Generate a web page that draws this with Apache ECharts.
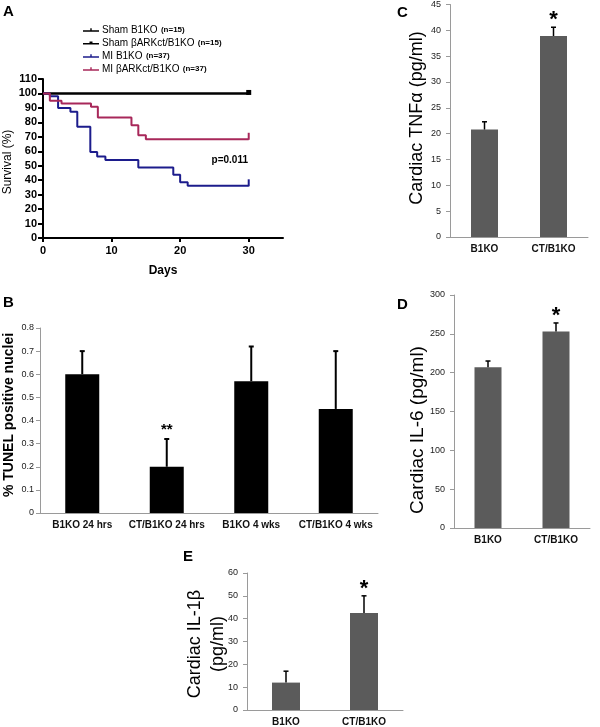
<!DOCTYPE html>
<html><head><meta charset="utf-8">
<script src="https://cdn.jsdelivr.net/npm/echarts@6/dist/echarts.min.js"></script>
<style>html,body{margin:0;padding:0;background:#fff}#c{width:600px;height:727px}</style>
</head><body><div id="c"></div>
<script>
// ---- Panel A: Kaplan-Meier survival ----
const kmNames = ['Sham B1KO', 'Sham βARKct/B1KO', 'MI B1KO', 'MI βARKct/B1KO'];
const kmN = ['(n=15)', '(n=15)', '(n=37)', '(n=37)'];
const shamDays = [0, 30];
const shamSurv = [100, 100];
const miDays = [0, 1, 2.2, 4.0, 5.0, 6.9, 7.9, 9.1, 13.9, 19.0, 20.0, 21.1, 30];
const miSurv = [100, 98, 90, 87.3, 77, 59.5, 56.3, 54, 48.7, 43.7, 38.6, 36.1, 36.1];
const miCtDays = [0, 1, 2.7, 7.0, 8.0, 12.9, 13.9, 15.0, 30];
const miCtSurv = [100, 95, 93, 90.8, 83.4, 78, 71, 68.3, 68.3];
const pText = 'p=0.011';

// ---- Panel B: TUNEL ----
const bCats = ['B1KO 24 hrs', 'CT/B1KO 24 hrs', 'B1KO 4 wks', 'CT/B1KO 4 wks'];
const bVals = [0.6, 0.2, 0.57, 0.45];
const bErrTop = [0.7, 0.32, 0.72, 0.70];
const bStars = ['', '**', '', ''];

// ---- Panel C: TNFα ----
const cCats = ['B1KO', 'CT/B1KO'];
const cVals = [20.8, 38.9];
const cErrTop = [22.3, 40.6];
const cStars = ['', '*'];

// ---- Panel D: IL-6 ----
const dCats = ['B1KO', 'CT/B1KO'];
const dVals = [207, 253];
const dErrTop = [215, 264];
const dStars = ['', '*'];

// ---- Panel E: IL-1β ----
const eCats = ['B1KO', 'CT/B1KO'];
const eVals = [12, 42.5];
const eErrTop = [17, 50];
const eStars = ['', '*'];

const FF = 'Liberation Sans, Arial, sans-serif';
const chart = echarts.init(document.getElementById('c'), null, {renderer: 'canvas'});

function kmData(days, surv, endSym, endSize, endOff) {
  return days.map((d, i) => {
    const last = i === days.length - 1;
    return last ? {value: [d, surv[i]], symbol: endSym, symbolSize: endSize, symbolOffset: endOff}
                : {value: [d, surv[i]], symbol: 'none'};
  });
}

function errRenderer(stars, capW, lw, starSize, starGap) {
  return function (params, api) {
    const i = api.value(0);
    const p0 = api.coord([i, api.value(1)]);
    const p1 = api.coord([i, api.value(2)]);
    const children = [
      {type: 'line', shape: {x1: p0[0], y1: p0[1], x2: p1[0], y2: p1[1]}, style: {stroke: '#000', lineWidth: lw}},
      {type: 'line', shape: {x1: p1[0] - capW / 2, y1: p1[1], x2: p1[0] + capW / 2, y2: p1[1]}, style: {stroke: '#000', lineWidth: lw}}
    ];
    const s = stars[params.dataIndex];
    if (s) {
      children.push({type: 'text', x: p1[0], y: p1[1] - starGap,
        style: {text: s, fill: '#000', font: 'bold ' + starSize + 'px ' + FF, textAlign: 'center', textVerticalAlign: 'bottom'}});
    }
    return {type: 'group', children: children};
  };
}

function barY(gi, min, max, interval, margin) {
  return {gridIndex: gi, type: 'value', min: min, max: max, interval: interval,
    axisLine: {show: true, lineStyle: {color: '#9a9a9a', width: 1}},
    axisTick: {show: true, length: 4, lineStyle: {color: '#9a9a9a'}},
    splitLine: {show: false},
    axisLabel: {fontSize: 9, color: '#222', fontFamily: FF, margin: margin}};
}
function barX(gi, cats) {
  return {gridIndex: gi, type: 'category', data: cats,
    axisLine: {show: true, lineStyle: {color: '#9a9a9a', width: 1}},
    axisTick: {show: false},
    axisLabel: {fontSize: 10, fontWeight: 'bold', color: '#111', fontFamily: FF, margin: 7, interval: 0}};
}
function errData(vals, tops) { return vals.map((v, i) => [i, v, tops[i]]); }

const lineIcon = 'path://M0,3L16,3L16,4.6L0,4.6Z M7.3,1L8.7,1L8.7,4L7.3,4Z';
const sqIcon = 'path://M0,3L16,3L16,4.6L0,4.6Z M6.5,1.5L9.5,1.5L9.5,4.5L6.5,4.5Z';

const option = {
  animation: false,
  backgroundColor: '#fff',
  grid: [
    {left: 43, top: 79, width: 240, height: 159},
    {left: 40, top: 328, width: 338, height: 185},
    {left: 450, top: 3, width: 138, height: 234},
    {left: 454, top: 295, width: 136, height: 233},
    {left: 247, top: 573, width: 156, height: 139}
  ],
  legend: {
    left: 78, top: 19, orient: 'vertical', itemWidth: 16, itemHeight: 6, itemGap: 1,
    data: [
      {name: kmNames[0], icon: lineIcon},
      {name: kmNames[1], icon: sqIcon},
      {name: kmNames[2], icon: lineIcon},
      {name: kmNames[3], icon: lineIcon}
    ],
    formatter: function (name) { return '{a|' + name + '} {b|' + kmN[kmNames.indexOf(name)] + '}'; },
    textStyle: {padding: [0, 0, 0, -2], rich: {
      a: {fontSize: 10, fontFamily: FF, color: '#000', lineHeight: 12},
      b: {fontSize: 8, fontWeight: 'bold', fontFamily: FF, color: '#000', lineHeight: 12}
    }}
  },
  xAxis: [
    {gridIndex: 0, type: 'value', min: 0, max: 35, interval: 10,
      axisLine: {lineStyle: {color: '#000', width: 2}},
      axisTick: {length: 4, lineStyle: {color: '#000', width: 2}},
      splitLine: {show: false},
      axisLabel: {fontSize: 11, fontWeight: 'bold', color: '#000', fontFamily: FF, showMaxLabel: false, margin: 7},
      name: 'Days', nameLocation: 'middle', nameGap: 27,
      nameTextStyle: {fontSize: 12, fontWeight: 'bold', color: '#000', fontFamily: FF}},
    barX(1, bCats), barX(2, cCats), barX(3, dCats), barX(4, eCats)
  ],
  yAxis: [
    {gridIndex: 0, type: 'value', min: 0, max: 110, interval: 10,
      axisLine: {show: true, lineStyle: {color: '#000', width: 2}},
      axisTick: {show: true, length: 5, lineStyle: {color: '#000', width: 2}},
      splitLine: {show: false},
      axisLabel: {fontSize: 11, fontWeight: 'bold', color: '#000', fontFamily: FF, margin: 6}},
    barY(1, 0, 0.8, 0.1, 6), barY(2, 0, 45, 5, 9), barY(3, 0, 300, 50, 9), barY(4, 0, 60, 10, 9)
  ],
  series: [
    {name: kmNames[0], type: 'line', step: 'end', xAxisIndex: 0, yAxisIndex: 0, color: '#000',
      symbol: 'rect', symbolSize: [2, 6], lineStyle: {width: 2, color: '#000'},
      data: kmData(shamDays, shamSurv, 'none', 0, [0, 0])},
    {name: kmNames[1], type: 'line', step: 'end', xAxisIndex: 0, yAxisIndex: 0, color: '#000',
      symbol: 'rect', symbolSize: 5, lineStyle: {width: 2, color: '#000'},
      data: kmData(shamDays, shamSurv, 'rect', 5, [0, -1])},
    {name: kmNames[2], type: 'line', step: 'end', xAxisIndex: 0, yAxisIndex: 0, color: '#1c1c8c',
      symbol: 'rect', symbolSize: [2, 6], lineStyle: {width: 2, color: '#1c1c8c'},
      data: kmData(miDays, miSurv, 'rect', [2, 7], [0, -3])},
    {name: kmNames[3], type: 'line', step: 'end', xAxisIndex: 0, yAxisIndex: 0, color: '#a8285a',
      symbol: 'rect', symbolSize: [2, 6], lineStyle: {width: 2, color: '#a8285a'},
      data: kmData(miCtDays, miCtSurv, 'rect', [2, 7], [0, -3])},

    {type: 'bar', xAxisIndex: 1, yAxisIndex: 1, data: bVals, barWidth: 34, itemStyle: {color: '#000'}},
    {type: 'custom', xAxisIndex: 1, yAxisIndex: 1, data: errData(bVals, bErrTop), encode: {x: 0, y: [1, 2]},
      renderItem: errRenderer(bStars, 5, 2, 15, 2), z: 5},

    {type: 'bar', xAxisIndex: 2, yAxisIndex: 2, data: cVals, barWidth: 27, itemStyle: {color: '#5b5b5b'}},
    {type: 'custom', xAxisIndex: 2, yAxisIndex: 2, data: errData(cVals, cErrTop), encode: {x: 0, y: [1, 2]},
      renderItem: errRenderer(cStars, 5, 1.5, 22, -4), z: 5},

    {type: 'bar', xAxisIndex: 3, yAxisIndex: 3, data: dVals, barWidth: 27, itemStyle: {color: '#5b5b5b'}},
    {type: 'custom', xAxisIndex: 3, yAxisIndex: 3, data: errData(dVals, dErrTop), encode: {x: 0, y: [1, 2]},
      renderItem: errRenderer(dStars, 5, 1.5, 22, -4), z: 5},

    {type: 'bar', xAxisIndex: 4, yAxisIndex: 4, data: eVals, barWidth: 28, itemStyle: {color: '#5b5b5b'}},
    {type: 'custom', xAxisIndex: 4, yAxisIndex: 4, data: errData(eVals, eErrTop), encode: {x: 0, y: [1, 2]},
      renderItem: errRenderer(eStars, 5, 1.5, 22, -4), z: 5}
  ],
  graphic: [
    {type: 'text', left: 3, top: 4, style: {text: 'A', font: 'bold 15px ' + FF, fill: '#000'}},
    {type: 'text', left: 3, top: 295, style: {text: 'B', font: 'bold 15px ' + FF, fill: '#000'}},
    {type: 'text', left: 397, top: 5, style: {text: 'C', font: 'bold 15px ' + FF, fill: '#000'}},
    {type: 'text', left: 397, top: 297, style: {text: 'D', font: 'bold 15px ' + FF, fill: '#000'}},
    {type: 'text', left: 183, top: 549, style: {text: 'E', font: 'bold 15px ' + FF, fill: '#000'}},
    {type: 'text', x: 248, y: 160, style: {text: pText, font: 'bold 10px ' + FF, fill: '#000', textAlign: 'right', textVerticalAlign: 'middle'}},
    {type: 'text', x: 8, y: 162, rotation: Math.PI / 2, style: {text: 'Survival (%)', font: '12px ' + FF, fill: '#000', textAlign: 'center', textVerticalAlign: 'middle'}},
    {type: 'text', x: 9, y: 415, rotation: Math.PI / 2, style: {text: '% TUNEL positive nuclei', font: 'bold 14px ' + FF, fill: '#000', textAlign: 'center', textVerticalAlign: 'middle'}},
    {type: 'text', x: 417, y: 118, rotation: Math.PI / 2, style: {text: 'Cardiac TNFα (pg/ml)', font: '18px ' + FF, fill: '#000', textAlign: 'center', textVerticalAlign: 'middle'}},
    {type: 'text', x: 418, y: 430, rotation: Math.PI / 2, style: {text: 'Cardiac IL-6 (pg/ml)', font: '19px ' + FF, fill: '#000', textAlign: 'center', textVerticalAlign: 'middle'}},
    {type: 'text', x: 195, y: 644, rotation: Math.PI / 2, style: {text: 'Cardiac IL-1β', font: '18px ' + FF, fill: '#000', textAlign: 'center', textVerticalAlign: 'middle'}},
    {type: 'text', x: 218, y: 644, rotation: Math.PI / 2, style: {text: '(pg/ml)', font: '18px ' + FF, fill: '#000', textAlign: 'center', textVerticalAlign: 'middle'}}
  ]
};
chart.setOption(option);
</script>
</body></html>
